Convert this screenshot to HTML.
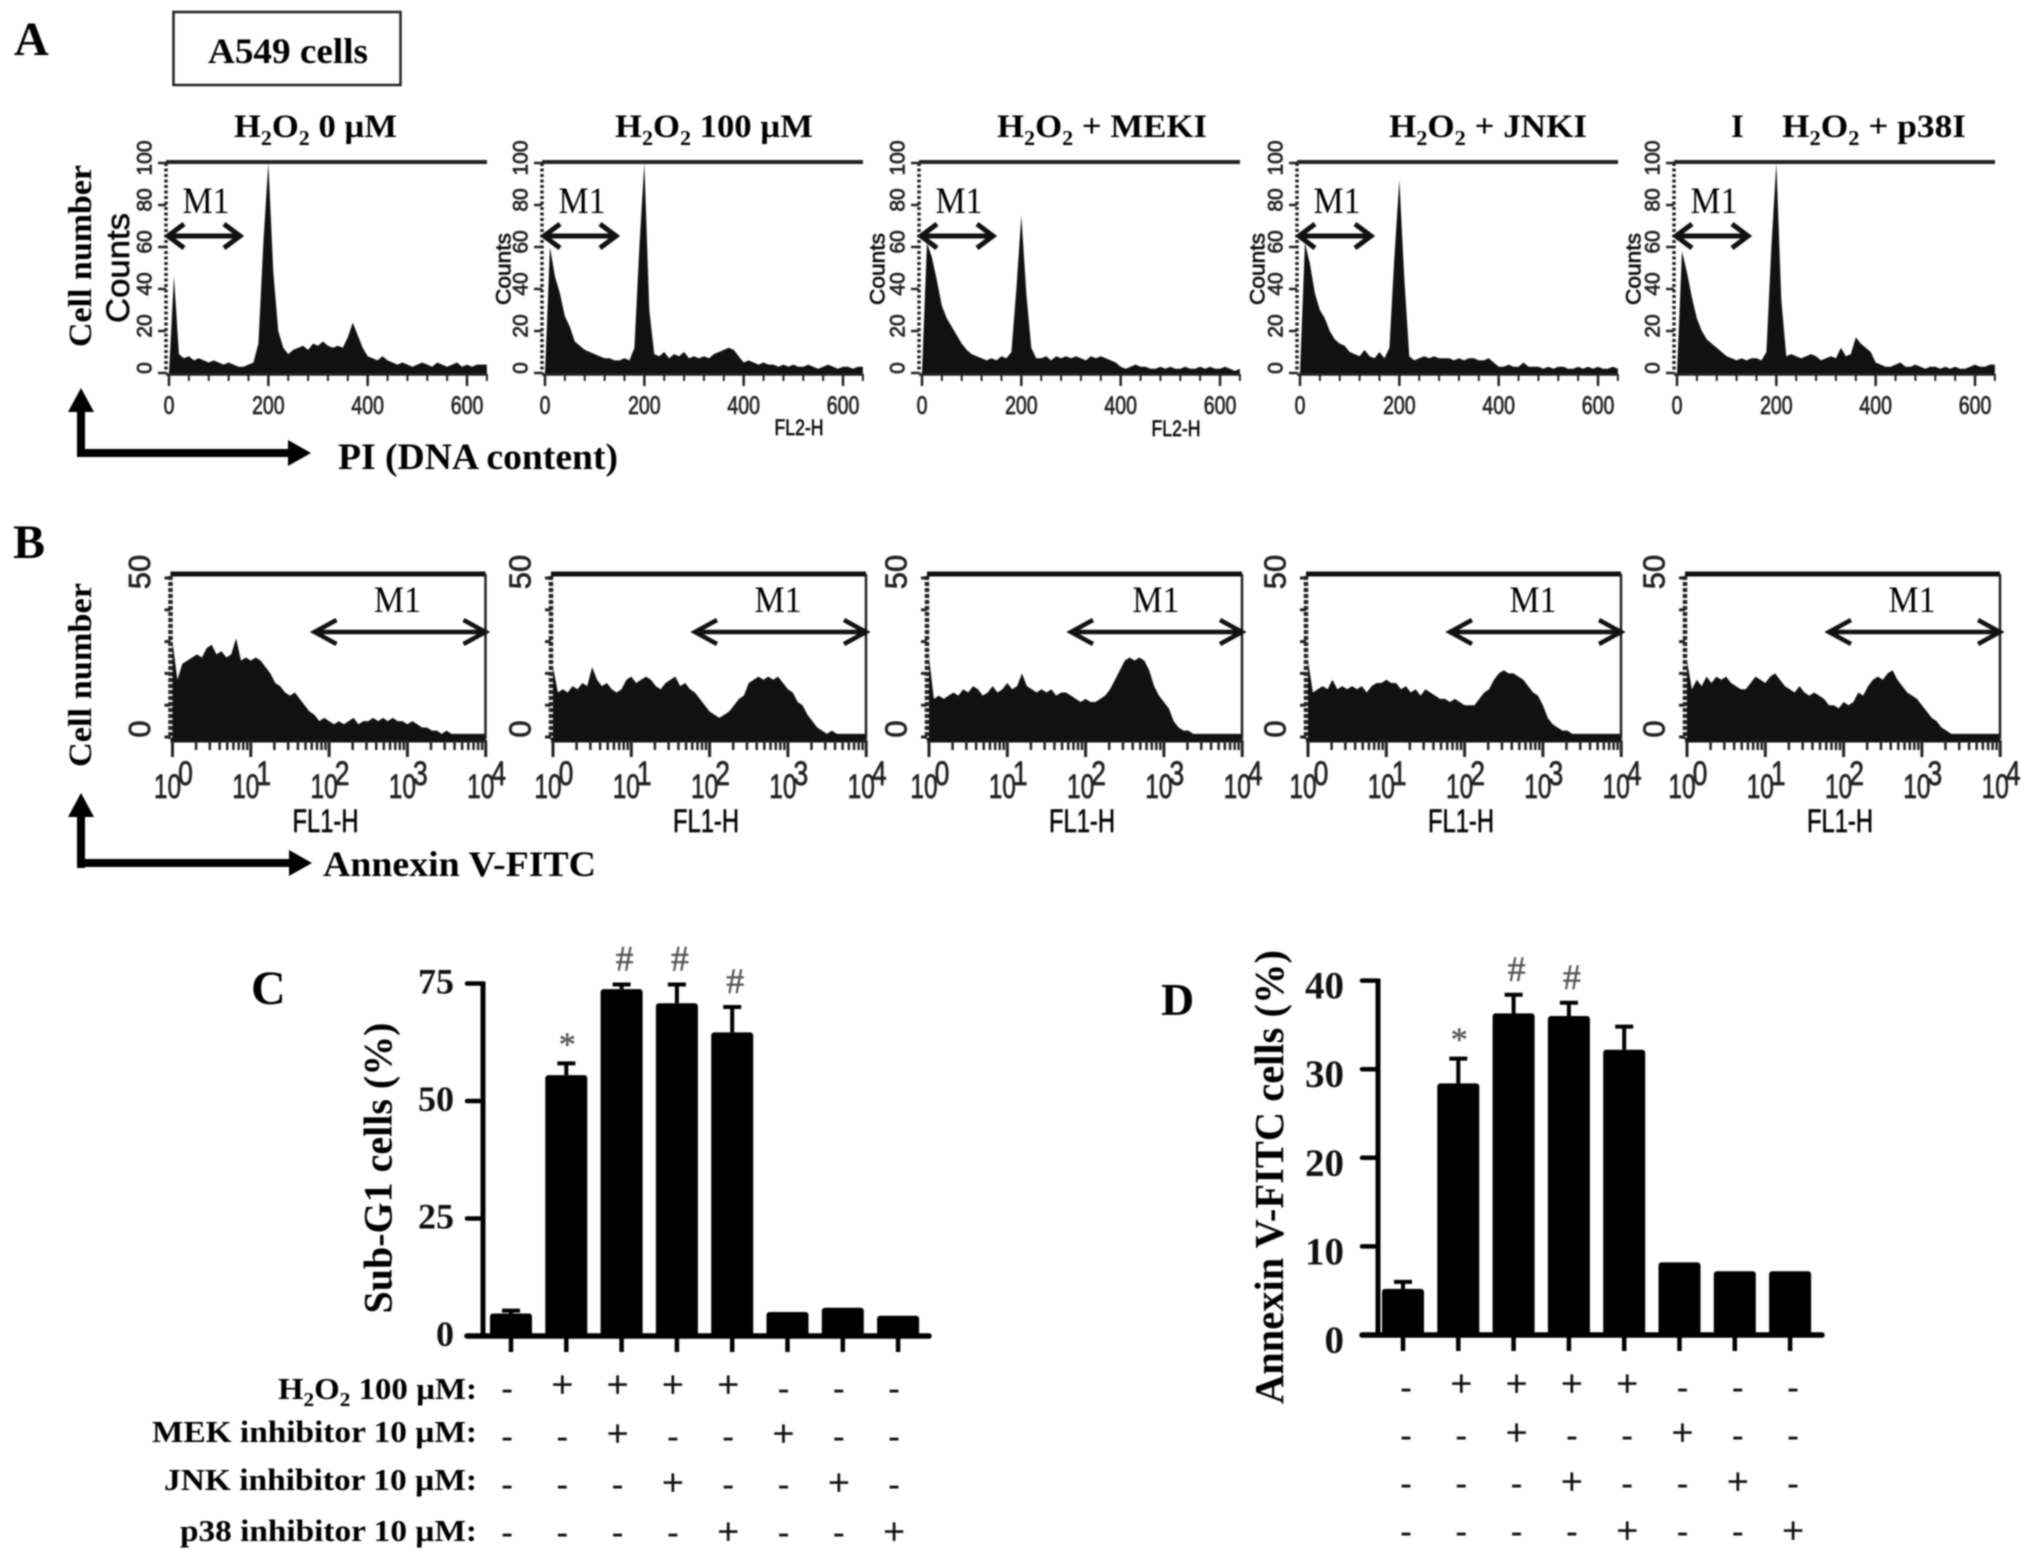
<!DOCTYPE html>
<html lang="en">
<head>
<meta charset="utf-8">
<title>A549 cells flow cytometry and apoptosis bar charts</title>
<style>
html,body{margin:0;padding:0;background:#fff;}
svg{display:block;filter:blur(0.8px);}
.serif{font-family:"Liberation Serif",serif;}
.sans{font-family:"Liberation Sans",sans-serif;}
.b{font-weight:bold;}
.thick{stroke:#222;stroke-width:0.7px;}
</style>
</head>
<body>
<svg id="figure" xmlns="http://www.w3.org/2000/svg" width="2031" height="1560" viewBox="0 0 2031 1560">
<rect width="2031" height="1560" fill="#fff"/>

<!-- Panel letters and headers -->
<text class="serif b" x="14" y="55" font-size="48">A</text>
<text class="serif b" x="13" y="558" font-size="48">B</text>
<text class="serif b" x="251" y="1004" font-size="48">C</text>
<text class="serif b" x="1161" y="1015" font-size="46">D</text>
<rect x="173.500" y="12" width="227" height="73" fill="none" stroke="#222" stroke-width="2.500"/>
<text class="serif b" x="208" y="63" font-size="36" textLength="160" lengthAdjust="spacingAndGlyphs">A549 cells</text>

<!-- Row A axis hint -->
<text class="serif b" transform="translate(81,256) rotate(-90)" text-anchor="middle" dominant-baseline="central" font-size="33" textLength="182" lengthAdjust="spacingAndGlyphs">Cell number</text>
<g fill="#000">
<rect x="77" y="405" width="8" height="52"/><polygon points="81,388 94,412 68,412"/>
<rect x="77" y="449" width="212" height="8"/><polygon points="311,453 288,440 288,466"/>
</g>
<text class="serif b" x="338" y="469" font-size="37" textLength="280" lengthAdjust="spacingAndGlyphs">PI (DNA content)</text>

<!-- Row A panels -->
<g id="a1" transform="translate(166,0)">
<text class="serif b" x="68" y="137" font-size="33" textLength="163" lengthAdjust="spacingAndGlyphs">H<tspan dy="8" font-size="21">2</tspan><tspan dy="-8">O</tspan><tspan dy="8" font-size="21">2</tspan><tspan dy="-8"> 0 µM</tspan></text>
<text class="sans thick" transform="translate(-48,268) rotate(-90)" text-anchor="middle" dominant-baseline="central" font-size="32" textLength="110" lengthAdjust="spacingAndGlyphs">Counts</text>
<text class="serif" x="40" y="213" text-anchor="middle" font-size="37" textLength="47" lengthAdjust="spacingAndGlyphs">M1</text>
</g>
<g id="a2" transform="translate(542,0)">
<text class="serif b" x="73" y="137" font-size="33" textLength="198" lengthAdjust="spacingAndGlyphs">H<tspan dy="8" font-size="21">2</tspan><tspan dy="-8">O</tspan><tspan dy="8" font-size="21">2</tspan><tspan dy="-8"> 100 µM</tspan></text>
<text class="sans thick" transform="translate(-38,269) rotate(-90)" text-anchor="middle" dominant-baseline="central" font-size="21" textLength="72" lengthAdjust="spacingAndGlyphs">Counts</text>
<text class="serif" x="40" y="213" text-anchor="middle" font-size="37" textLength="47" lengthAdjust="spacingAndGlyphs">M1</text>
<text class="sans thick" x="257" y="435" text-anchor="middle" font-size="22" textLength="49" lengthAdjust="spacingAndGlyphs">FL2-H</text>
</g>
<g id="a3" transform="translate(919,0)">
<text class="serif b" x="78" y="137" font-size="33" textLength="210" lengthAdjust="spacingAndGlyphs">H<tspan dy="8" font-size="21">2</tspan><tspan dy="-8">O</tspan><tspan dy="8" font-size="21">2</tspan><tspan dy="-8"> + MEKI</tspan></text>
<text class="sans thick" transform="translate(-41,269) rotate(-90)" text-anchor="middle" dominant-baseline="central" font-size="21" textLength="72" lengthAdjust="spacingAndGlyphs">Counts</text>
<text class="serif" x="40" y="213" text-anchor="middle" font-size="37" textLength="47" lengthAdjust="spacingAndGlyphs">M1</text>
<text class="sans thick" x="257" y="436" text-anchor="middle" font-size="22" textLength="49" lengthAdjust="spacingAndGlyphs">FL2-H</text>
</g>
<g id="a4" transform="translate(1297,0)">
<text class="serif b" x="92" y="137" font-size="33" textLength="198" lengthAdjust="spacingAndGlyphs">H<tspan dy="8" font-size="21">2</tspan><tspan dy="-8">O</tspan><tspan dy="8" font-size="21">2</tspan><tspan dy="-8"> + JNKI</tspan></text>
<text class="sans thick" transform="translate(-39,269) rotate(-90)" text-anchor="middle" dominant-baseline="central" font-size="21" textLength="72" lengthAdjust="spacingAndGlyphs">Counts</text>
<text class="serif" x="40" y="213" text-anchor="middle" font-size="37" textLength="47" lengthAdjust="spacingAndGlyphs">M1</text>
</g>
<g id="a5" transform="translate(1674,0)">
<text class="serif b" x="57" y="137" font-size="33">I</text>
<text class="serif b" x="108" y="137" font-size="33" textLength="184" lengthAdjust="spacingAndGlyphs">H<tspan dy="8" font-size="21">2</tspan><tspan dy="-8">O</tspan><tspan dy="8" font-size="21">2</tspan><tspan dy="-8"> + p38I</tspan></text>
<text class="sans thick" transform="translate(-40,269) rotate(-90)" text-anchor="middle" dominant-baseline="central" font-size="21" textLength="72" lengthAdjust="spacingAndGlyphs">Counts</text>
<text class="serif" x="40" y="213" text-anchor="middle" font-size="37" textLength="47" lengthAdjust="spacingAndGlyphs">M1</text>
</g>

<!-- Row B axis hint -->
<text class="serif b" transform="translate(81,675) rotate(-90)" text-anchor="middle" dominant-baseline="central" font-size="33" textLength="184" lengthAdjust="spacingAndGlyphs">Cell number</text>
<g fill="#000">
<rect x="77" y="810" width="8" height="58"/><polygon points="81,793 94,817 68,817"/>
<rect x="77" y="859" width="212" height="8"/><polygon points="312,863 289,850 289,876"/>
</g>
<text class="serif b" x="323" y="876" font-size="36" textLength="273" lengthAdjust="spacingAndGlyphs">Annexin V-FITC</text>

<!-- Row B panels -->
<g id="b1" transform="translate(170.500,0)">
<text class="serif" x="227" y="612" text-anchor="middle" font-size="37" textLength="47" lengthAdjust="spacingAndGlyphs">M1</text>
<text class="sans thick" x="155" y="832" text-anchor="middle" font-size="32" textLength="66" lengthAdjust="spacingAndGlyphs">FL1-H</text>
</g>
<g id="b2" transform="translate(551,0)">
<text class="serif" x="227" y="612" text-anchor="middle" font-size="37" textLength="47" lengthAdjust="spacingAndGlyphs">M1</text>
<text class="sans thick" x="155" y="832" text-anchor="middle" font-size="32" textLength="66" lengthAdjust="spacingAndGlyphs">FL1-H</text>
</g>
<g id="b3" transform="translate(927,0)">
<text class="serif" x="229" y="612" text-anchor="middle" font-size="37" textLength="47" lengthAdjust="spacingAndGlyphs">M1</text>
<text class="sans thick" x="155" y="832" text-anchor="middle" font-size="32" textLength="66" lengthAdjust="spacingAndGlyphs">FL1-H</text>
</g>
<g id="b4" transform="translate(1306,0)">
<text class="serif" x="227" y="612" text-anchor="middle" font-size="37" textLength="47" lengthAdjust="spacingAndGlyphs">M1</text>
<text class="sans thick" x="155" y="832" text-anchor="middle" font-size="32" textLength="66" lengthAdjust="spacingAndGlyphs">FL1-H</text>
</g>
<g id="b5" transform="translate(1685,0)">
<text class="serif" x="227" y="612" text-anchor="middle" font-size="37" textLength="47" lengthAdjust="spacingAndGlyphs">M1</text>
<text class="sans thick" x="155" y="832" text-anchor="middle" font-size="32" textLength="66" lengthAdjust="spacingAndGlyphs">FL1-H</text>
</g>

<!-- Chart C static labels -->
<g id="chart-c"></g>
<text class="serif b" transform="translate(378,1168) rotate(-90)" text-anchor="middle" dominant-baseline="central" font-size="40" textLength="291" lengthAdjust="spacingAndGlyphs">Sub-G1 cells (%)</text>
<text class="serif b" x="278" y="1399" font-size="31" textLength="199" lengthAdjust="spacingAndGlyphs">H<tspan dy="7" font-size="20">2</tspan><tspan dy="-7">O</tspan><tspan dy="7" font-size="20">2</tspan><tspan dy="-7"> 100 µM:</tspan></text>
<text class="serif b" x="152" y="1442" font-size="31" textLength="325" lengthAdjust="spacingAndGlyphs">MEK inhibitor 10 µM:</text>
<text class="serif b" x="164" y="1490" font-size="31" textLength="313" lengthAdjust="spacingAndGlyphs">JNK inhibitor 10 µM:</text>
<text class="serif b" x="180" y="1541" font-size="31" textLength="297" lengthAdjust="spacingAndGlyphs">p38 inhibitor 10 µM:</text>

<!-- Chart D static labels -->
<g id="chart-d"></g>
<text class="serif b" transform="translate(1269,1177) rotate(-90)" text-anchor="middle" dominant-baseline="central" font-size="41" textLength="454" lengthAdjust="spacingAndGlyphs">Annexin V-FITC cells (%)</text>

<script>
// Row A: DNA content histograms, counts per 10-unit FL2-H channel bin
const dnaH2o2Zero = [0,46,9,7,8,6,7,6,5,6, 5,4,5,4,3,3,4,5,14,62, 100,48,20,12,9,11,12,13,11,14, 13,15,13,12,13,12,17,24,18,12, 8,7,6,8,6,5,4,5,4,3, 4,5,4,3,5,4,3,4,5,3, 4,3,4,4,4];
const dnaH2o2Hundred = [0,60,46,38,27,22,15,13,11,10, 9,8,7,7,6,6,7,6,12,60, 100,30,9,8,10,7,9,8,10,7, 8,7,8,7,9,10,11,12,11,8, 5,6,5,4,5,4,4,3,4,3, 4,3,3,4,3,2,3,4,3,2, 3,3,2,3,3];
const dnaMeki = [0,62,55,44,32,26,22,18,14,11, 9,8,7,6,7,6,8,7,10,40, 75,38,12,7,7,8,6,8,7,8, 7,8,7,6,8,7,8,7,6,5, 3,2,3,4,3,3,2,2,3,2, 3,2,2,3,2,2,3,2,3,2, 2,3,2,1,2];
const dnaJnki = [0,62,52,38,30,26,20,16,14,13, 10,9,8,11,8,7,10,7,12,55, 92,45,8,6,7,8,7,8,7,7, 7,6,7,6,7,7,6,6,7,5, 3,3,4,3,3,5,3,3,3,2, 3,2,3,3,2,2,3,2,3,2, 3,2,2,3,2];
const dnaP38i = [0,58,48,36,26,20,16,14,12,10, 8,7,6,7,6,7,7,6,10,60, 100,35,8,9,8,7,8,9,8,6, 7,8,7,12,8,9,17,14,12,10, 5,4,3,3,4,5,3,3,4,3, 2,3,3,2,3,2,3,2,2,3, 4,3,3,4,4];

// Row B: Annexin V histograms, counts per 1/16-decade FL1-H bin
const annexinH2o2Zero = [30,18,23,24,25,26,25,28,29,26, 27,25,26,31,24,25,24,25,24,22, 20,17,16,14,13,14,12,10,8,7, 5,6,5,4,5,4,5,6,4,5, 5,6,5,6,5,6,5,5,4,5, 4,3,3,2,2,1,2,1,1,1, 1,1,1,1,1];
const annexinH2o2Hundred = [22,14,15,14,16,15,17,16,22,18, 16,17,15,14,15,18,19,17,18,19, 18,16,15,17,18,19,16,17,15,14, 12,10,8,7,6,7,8,10,12,13, 17,18,19,18,19,18,19,17,15,14, 11,10,7,5,3,2,1,2,1,1, 1,1,1,1,1];
const annexinMeki = [25,12,13,12,13,14,13,15,14,16, 15,13,14,16,14,15,17,15,16,20, 16,15,14,15,14,15,13,14,14,13, 12,11,12,11,11,12,13,15,18,21, 24,25,24,25,24,21,16,13,11,9, 5,3,2,2,1,1,1,1,1,1, 1,1,1,1,1];
const annexinJnki = [24,14,15,16,15,18,15,16,15,16, 15,16,14,16,17,17,18,17,17,15, 16,14,15,13,15,14,13,12,12,11, 12,11,10,10,10,12,14,15,18,20, 21,20,20,19,18,16,14,13,10,6, 4,3,2,2,1,1,1,1,1,1, 1,1,1,1,1];
const annexinP38i = [24,15,18,16,19,17,19,18,19,17, 16,15,15,17,19,18,17,19,20,18, 16,15,14,16,14,13,14,13,12,10, 10,9,11,10,11,14,13,16,18,19, 18,20,21,18,16,14,13,12,10,8, 6,5,3,2,1,1,1,1,1,1, 1,1,1,1,1];

// Tick labels
const dnaXTicks = [0,200,400,600];
const dnaYTicks = [0,20,40,60,80,100];
const annexinYTicks = [0,50];
const annexinDecades = [0,1,2,3,4];

// Chart C: Sub-G1 cells (%)
const subG1Categories = ['control','h2o2','h2o2-mek','h2o2-jnk','h2o2-p38','mek','jnk','p38'];
const subG1Values = [4.8,55.5,73.8,70.8,64.6,5.1,6,4.3];
const subG1ErrorTops = [5.4,58,74.8,74.8,70,5.1,6,4.3];
const subG1Ticks = [0,25,50,75];
const subG1Marks = ['','*','#','#','#','','',''];

// Chart D: Annexin V-FITC cells (%)
const annexinCategories = ['control','h2o2','h2o2-mek','h2o2-jnk','h2o2-p38','mek','jnk','p38'];
const annexinValues = [5.2,28.4,36.3,36,32.2,8.2,7.2,7.2];
const annexinErrorTops = [6,31.2,38.4,37.5,34.8,8.2,7.2,7.2];
const annexinTicks = [0,10,20,30,40];
const annexinMarks = ['','*','#','#','','','',''];

// Treatment matrix shared by both bar charts
const treatH2o2 = ['-','+','+','+','+','-','-','-'];
const treatMek  = ['-','-','+','-','-','+','-','-'];
const treatJnk  = ['-','-','-','+','-','-','+','-'];
const treatP38  = ['-','-','-','-','+','-','-','+'];
const treatRows = [treatH2o2,treatMek,treatJnk,treatP38];

const NS = 'http://www.w3.org/2000/svg';
function el(parent, tag, attrs, text){
  const n = document.createElementNS(NS, tag);
  for (const k in attrs) n.setAttribute(k, attrs[k]);
  if (text !== undefined) n.textContent = text;
  parent.appendChild(n);
  return n;
}

// Axis functions for row A
const xDna = v => 3 + 0.4967 * v;
const yDna = c => 373 - 2.1 * c;
// Axis functions for row B
const xAnnexin = d => 2 + 78.3 * d;
const yAnnexin = c => 737 - 3.18 * c;

function drawArrow(g, x1, x2, y, hl, hh, sw){
  const a = el(g, 'path', {d:`M${x1+hl},${y-hh} L${x1},${y} L${x1+hl},${y+hh} M${x1},${y} L${x2},${y} M${x2-hl},${y-hh} L${x2},${y} L${x2-hl},${y+hh}`, fill:'none', stroke:'#111', 'stroke-width':sw});
  
  
}

function drawDnaPanel(id, counts){
  const g = document.getElementById(id);
  const right = 321;
  const pts = [[xDna(0), 374]];
  counts.forEach((c, i) => pts.push([xDna(i * 10), yDna(c)]));
  pts.push([xDna((counts.length - 1) * 10), 374]);
  const area = el(g, 'polygon', {points: pts.map(p => p.join(',')).join(' '), fill:'#111'});
  
  

  const top = el(g, 'line', {x1:0, x2:right, y1:162, y2:162, stroke:'#222', 'stroke-width':4});
  
  
  const left = el(g, 'line', {x1:0, x2:0, y1:yDna(100), y2:yDna(0), stroke:'#222', 'stroke-width':3.500, 'stroke-dasharray':'3 2.500'});
  
  
  const bottom = el(g, 'line', {x1:0, x2:right, y1:374.500, y2:374.500, stroke:'#222', 'stroke-width':2.500});
  
  

  for (let v = 0; v <= 640; v += 40) {
    const major = v % 200 === 0;
    const t = el(g, 'line', {x1:xDna(v), x2:xDna(v), y1:374, y2:major ? 386 : 381, stroke:'#222', 'stroke-width':major ? 2.500 : 2});
    
    
  }
  dnaXTicks.forEach(v => {
    const t = el(g, 'text', {transform:`translate(${xDna(v)},414) scale(.78,1)`, 'text-anchor':'middle', 'font-size':25, class:'sans thick', fill:'#222'}, String(v));
    
    
  });
  dnaYTicks.forEach(v => {
    const m = el(g, 'line', {x1:-8, x2:0, y1:yDna(v), y2:yDna(v), stroke:'#222', 'stroke-width':2.500});
    
    
    const t = el(g, 'text', {transform:`translate(-21,${yDna(v) - 5}) rotate(-90)`, 'text-anchor':'middle', 'dominant-baseline':'central', 'font-size':21, class:'sans thick', fill:'#222'}, String(v));
    
    
  });
  drawArrow(g, 2, 74, 236, 16, 12, 5);
}

function drawAnnexinPanel(id, counts){
  const g = document.getElementById(id);
  const right = 315;
  const step = 1 / 16;
  const pts = [[xAnnexin(0), 741]];
  counts.forEach((c, i) => pts.push([xAnnexin(i * step), yAnnexin(c)]));
  pts.push([xAnnexin((counts.length - 1) * step), 741]);
  const area = el(g, 'polygon', {points: pts.map(p => p.join(',')).join(' '), fill:'#111'});
  
  

  const frame = el(g, 'path', {d:`M0,574 H${right}`, stroke:'#111', 'stroke-width':5, fill:'none'});
  
  
  const rightLine = el(g, 'line', {x1:right, x2:right, y1:574, y2:739, stroke:'#222', 'stroke-width':2.500});
  
  
  const left = el(g, 'line', {x1:0, x2:0, y1:576, y2:739, stroke:'#222', 'stroke-width':4.500, 'stroke-dasharray':'4 2'});
  
  
  const bottom = el(g, 'line', {x1:0, x2:right, y1:740, y2:740, stroke:'#111', 'stroke-width':5});
  
  

  for (let c = 0; c <= 50; c += 10) {
    const m = el(g, 'line', {x1:-6, x2:0, y1:yAnnexin(c), y2:yAnnexin(c), stroke:'#222', 'stroke-width':3});
    
    
  }
  annexinYTicks.forEach(v => {
    const t = el(g, 'text', {transform:`translate(-31,${yAnnexin(v) - (v ? 6 : 8)}) rotate(-90)`, 'text-anchor':'middle', 'dominant-baseline':'central', 'font-size':31, class:'sans thick', fill:'#222'}, String(v));
    
    
  });
  annexinDecades.forEach(d => {
    const major = el(g, 'line', {x1:xAnnexin(d), x2:xAnnexin(d), y1:740, y2:757, stroke:'#222', 'stroke-width':3});
    
    
    if (d < 4) {
      for (let k = 2; k <= 9; k++) {
        const x = xAnnexin(d + Math.log10(k));
        const minor = el(g, 'line', {x1:x, x2:x, y1:740, y2:750, stroke:'#222', 'stroke-width':2.500});
        
        
      }
    }
    const base = el(g, 'text', {transform:`translate(${xAnnexin(d) - 5},798) scale(.72,1)`, 'text-anchor':'middle', 'font-size':34, class:'sans thick', fill:'#222'}, '10');
    
    
    const exp = el(g, 'text', {transform:`translate(${xAnnexin(d) + 13},785) scale(.78,1)`, 'text-anchor':'middle', 'font-size':34, class:'sans thick', fill:'#222'}, String(d));
    
    
  });
  drawArrow(g, right - 171, right, 632, 22, 12, 4.500);
}

function drawBars(cfg){
  const g = document.getElementById(cfg.id);
  const x = i => cfg.x0 + cfg.step * i;
  const y = v => cfg.y0 - cfg.unit * v;
  cfg.values.forEach((v, i) => {
    const top = cfg.errors[i];
    if (top > v) {
      const e = el(g, 'path', {d:`M${x(i)},${y(v)} V${y(top)} M${x(i) - 9},${y(top)} H${x(i) + 9}`, stroke:'#000', 'stroke-width':4, fill:'none'});
      
      
    }
    const b = el(g, 'rect', {x:x(i) - 21, y:y(v), width:42, height:cfg.y0 - y(v), rx:3, fill:'#000'});
    
    
    const t = el(g, 'line', {x1:x(i), x2:x(i), y1:cfg.y0, y2:cfg.y0 + 16, stroke:'#000', 'stroke-width':4.500});
    
    
    if (cfg.marks[i]) {
      const isStar = cfg.marks[i] === '*';
      const m = el(g, 'text', {x:x(i) + (isStar ? 1 : 3), y:y(top) - (isStar ? 8 : 14), 'text-anchor':'middle', 'font-size':isStar ? 34 : 36, class:'serif', fill:'#555', stroke:'#555', 'stroke-width':0.4}, cfg.marks[i]);
      
      
    }
    treatRows.forEach((row, r) => {
      const sym = row[i];
      const plus = sym === '+';
      const ry = plus ? cfg.rowY + 9 + 49 * r : cfg.rowY + 11 + 48 * r;
      const s = el(g, 'text', {x:x(i) + cfg.rowOffset, y:ry, 'text-anchor':'middle', 'font-size':plus ? 38 : 34, class:'serif', fill:'#111', stroke:plus ? '#111' : 'none', 'stroke-width':plus ? 0.8 : 0, 'font-weight':plus ? 'normal' : 'bold'}, sym);
      
      
    });
  });
  const yAxis = el(g, 'line', {x1:cfg.axisX, x2:cfg.axisX, y1:y(cfg.ticks[cfg.ticks.length - 1]) - 2, y2:cfg.y0, stroke:'#000', 'stroke-width':5});
  
  
  const xAxis = el(g, 'line', {x1:cfg.axisX - 16, x2:cfg.axisEnd, y1:cfg.y0, y2:cfg.y0, stroke:'#000', 'stroke-width':5.500, 'stroke-linecap':'round'});
  
  
  cfg.ticks.forEach(v => {
    const t = el(g, 'line', {x1:cfg.axisX - 16, x2:cfg.axisX, y1:y(v), y2:y(v), stroke:'#000', 'stroke-width':4.500, 'stroke-linecap':'round'});
    
    
    const l = el(g, 'text', {x:cfg.labelX, y:y(v) + cfg.labelDy, 'text-anchor':'end', 'font-size':cfg.labelSize, class:'serif b', fill:'#111'}, String(v));
    
    
  });
}

drawDnaPanel('a1', dnaH2o2Zero);
drawDnaPanel('a2', dnaH2o2Hundred);
drawDnaPanel('a3', dnaMeki);
drawDnaPanel('a4', dnaJnki);
drawDnaPanel('a5', dnaP38i);

drawAnnexinPanel('b1', annexinH2o2Zero);
drawAnnexinPanel('b2', annexinH2o2Hundred);
drawAnnexinPanel('b3', annexinMeki);
drawAnnexinPanel('b4', annexinJnki);
drawAnnexinPanel('b5', annexinP38i);

drawBars({id:'chart-c', categories:subG1Categories, values:subG1Values, errors:subG1ErrorTops, marks:subG1Marks, ticks:subG1Ticks,
  x0:511, step:55.300, y0:1336, unit:4.700, axisX:483, axisEnd:929, labelX:454, labelDy:10, labelSize:36, rowY:1388, rowOffset:-4});
drawBars({id:'chart-d', categories:annexinCategories, values:annexinValues, errors:annexinErrorTops, marks:annexinMarks, ticks:annexinTicks,
  x0:1403, step:55.300, y0:1335, unit:8.860, axisX:1378, axisEnd:1822, labelX:1344, labelDy:18, labelSize:39, rowY:1387, rowOffset:3});
</script>
</svg>
</body>
</html>
